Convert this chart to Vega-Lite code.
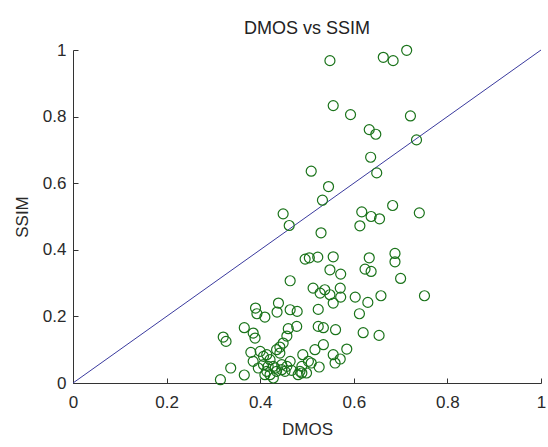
{
  "$schema": "https://vega.github.io/schema/vega-lite/v6.json",
  "width": 468,
  "height": 333,
  "autosize": {"type": "none"},
  "padding": {"left": 73, "top": 50, "right": 7, "bottom": 64},
  "background": "white",
  "config": {"view": {"stroke": null}, "font": "Liberation Sans"},
  "title": {"text": "DMOS vs SSIM", "fontSize": 18, "fontWeight": "normal", "color": "#222222", "baseline": "alphabetic", "offset": 5, "dy": 16, "anchor": "middle"},
  "layer": [
    {
      "data": {"values": [{"x": 0, "y": 0}, {"x": 1, "y": 1}]},
      "mark": {"type": "line", "color": "#3a3a9e", "strokeWidth": 1},
      "encoding": {
        "x": {"field": "x", "type": "quantitative", "scale": {"domain": [0, 1], "nice": false}},
        "y": {"field": "y", "type": "quantitative", "scale": {"domain": [0, 1], "nice": false}}
      }
    },
    {
      "data": {"values": [
        {"dmos": 0.549, "ssim": 0.968}, {"dmos": 0.663, "ssim": 0.978}, {"dmos": 0.684, "ssim": 0.968}, {"dmos": 0.713, "ssim": 0.999},
        {"dmos": 0.556, "ssim": 0.833}, {"dmos": 0.593, "ssim": 0.806}, {"dmos": 0.721, "ssim": 0.802}, {"dmos": 0.633, "ssim": 0.761},
        {"dmos": 0.647, "ssim": 0.747}, {"dmos": 0.734, "ssim": 0.730}, {"dmos": 0.636, "ssim": 0.678}, {"dmos": 0.509, "ssim": 0.636},
        {"dmos": 0.649, "ssim": 0.631}, {"dmos": 0.546, "ssim": 0.590}, {"dmos": 0.533, "ssim": 0.549}, {"dmos": 0.683, "ssim": 0.533},
        {"dmos": 0.740, "ssim": 0.511}, {"dmos": 0.617, "ssim": 0.514}, {"dmos": 0.637, "ssim": 0.500}, {"dmos": 0.655, "ssim": 0.493},
        {"dmos": 0.613, "ssim": 0.472}, {"dmos": 0.449, "ssim": 0.508}, {"dmos": 0.462, "ssim": 0.473}, {"dmos": 0.530, "ssim": 0.451},
        {"dmos": 0.496, "ssim": 0.372}, {"dmos": 0.505, "ssim": 0.376}, {"dmos": 0.523, "ssim": 0.378}, {"dmos": 0.556, "ssim": 0.379},
        {"dmos": 0.633, "ssim": 0.376}, {"dmos": 0.688, "ssim": 0.389}, {"dmos": 0.688, "ssim": 0.364}, {"dmos": 0.549, "ssim": 0.340},
        {"dmos": 0.572, "ssim": 0.327}, {"dmos": 0.624, "ssim": 0.342}, {"dmos": 0.637, "ssim": 0.335}, {"dmos": 0.700, "ssim": 0.314},
        {"dmos": 0.464, "ssim": 0.307}, {"dmos": 0.513, "ssim": 0.285}, {"dmos": 0.528, "ssim": 0.270}, {"dmos": 0.538, "ssim": 0.280},
        {"dmos": 0.549, "ssim": 0.265}, {"dmos": 0.556, "ssim": 0.240}, {"dmos": 0.571, "ssim": 0.285}, {"dmos": 0.572, "ssim": 0.258},
        {"dmos": 0.603, "ssim": 0.258}, {"dmos": 0.630, "ssim": 0.242}, {"dmos": 0.658, "ssim": 0.262}, {"dmos": 0.751, "ssim": 0.262},
        {"dmos": 0.439, "ssim": 0.240}, {"dmos": 0.436, "ssim": 0.213}, {"dmos": 0.464, "ssim": 0.220}, {"dmos": 0.479, "ssim": 0.215},
        {"dmos": 0.524, "ssim": 0.221}, {"dmos": 0.612, "ssim": 0.208}, {"dmos": 0.390, "ssim": 0.225}, {"dmos": 0.393, "ssim": 0.208},
        {"dmos": 0.410, "ssim": 0.198}, {"dmos": 0.478, "ssim": 0.170}, {"dmos": 0.524, "ssim": 0.170}, {"dmos": 0.535, "ssim": 0.166},
        {"dmos": 0.561, "ssim": 0.160}, {"dmos": 0.620, "ssim": 0.151}, {"dmos": 0.654, "ssim": 0.143}, {"dmos": 0.366, "ssim": 0.166},
        {"dmos": 0.385, "ssim": 0.150}, {"dmos": 0.389, "ssim": 0.135}, {"dmos": 0.321, "ssim": 0.138}, {"dmos": 0.327, "ssim": 0.125},
        {"dmos": 0.457, "ssim": 0.141}, {"dmos": 0.449, "ssim": 0.120}, {"dmos": 0.442, "ssim": 0.108}, {"dmos": 0.435, "ssim": 0.100},
        {"dmos": 0.535, "ssim": 0.115}, {"dmos": 0.517, "ssim": 0.100}, {"dmos": 0.585, "ssim": 0.102}, {"dmos": 0.491, "ssim": 0.085},
        {"dmos": 0.556, "ssim": 0.085}, {"dmos": 0.571, "ssim": 0.072}, {"dmos": 0.560, "ssim": 0.060}, {"dmos": 0.380, "ssim": 0.092},
        {"dmos": 0.400, "ssim": 0.095}, {"dmos": 0.407, "ssim": 0.080}, {"dmos": 0.414, "ssim": 0.085}, {"dmos": 0.460, "ssim": 0.163},
        {"dmos": 0.337, "ssim": 0.045}, {"dmos": 0.366, "ssim": 0.024}, {"dmos": 0.315, "ssim": 0.010}, {"dmos": 0.421, "ssim": 0.070},
        {"dmos": 0.428, "ssim": 0.050}, {"dmos": 0.435, "ssim": 0.035}, {"dmos": 0.446, "ssim": 0.040}, {"dmos": 0.457, "ssim": 0.050},
        {"dmos": 0.467, "ssim": 0.038}, {"dmos": 0.489, "ssim": 0.050}, {"dmos": 0.489, "ssim": 0.030}, {"dmos": 0.509, "ssim": 0.060},
        {"dmos": 0.526, "ssim": 0.048}, {"dmos": 0.485, "ssim": 0.035}, {"dmos": 0.503, "ssim": 0.065}, {"dmos": 0.481, "ssim": 0.025},
        {"dmos": 0.499, "ssim": 0.030}, {"dmos": 0.385, "ssim": 0.065}, {"dmos": 0.396, "ssim": 0.045}, {"dmos": 0.407, "ssim": 0.055},
        {"dmos": 0.414, "ssim": 0.035}, {"dmos": 0.421, "ssim": 0.025}, {"dmos": 0.432, "ssim": 0.045}, {"dmos": 0.428, "ssim": 0.015},
        {"dmos": 0.410, "ssim": 0.025}, {"dmos": 0.417, "ssim": 0.050}, {"dmos": 0.446, "ssim": 0.055}, {"dmos": 0.453, "ssim": 0.035},
        {"dmos": 0.464, "ssim": 0.065}, {"dmos": 0.442, "ssim": 0.090}
      ]},
      "mark": {"type": "point", "shape": "circle", "filled": false, "color": "#1a731a", "size": 100, "strokeWidth": 1.2, "opacity": 1},
      "encoding": {
        "x": {
          "field": "dmos", "type": "quantitative",
          "scale": {"domain": [0, 1], "nice": false},
          "axis": {
            "title": "DMOS", "values": [0, 0.2, 0.4, 0.6, 0.8, 1], "format": "~g", "grid": false,
            "tickSize": -5, "labelPadding": 16, "labelFontSize": 17, "labelColor": "#2a2a2a", "labelFlush": false,
            "domainColor": "#333333", "tickColor": "#333333",
            "titleFontSize": 17, "titleFontWeight": "normal", "titleColor": "#2a2a2a",
            "titleBaseline": "alphabetic", "titleY": 51, "titleX": 234
          }
        },
        "y": {
          "field": "ssim", "type": "quantitative",
          "scale": {"domain": [0, 1], "nice": false},
          "axis": {
            "title": "SSIM", "values": [0, 0.2, 0.4, 0.6, 0.8, 1], "format": "~g", "grid": false,
            "tickSize": -5, "labelPadding": 12, "labelFontSize": 17, "labelColor": "#2a2a2a", "labelFlush": false,
            "domainColor": "#333333", "tickColor": "#333333",
            "titleFontSize": 17, "titleFontWeight": "normal", "titleColor": "#2a2a2a",
            "titleBaseline": "alphabetic", "titleX": -46, "titleY": 166.5, "titleAngle": -90, "titleAlign": "center"
          }
        }
      }
    }
  ]
}
